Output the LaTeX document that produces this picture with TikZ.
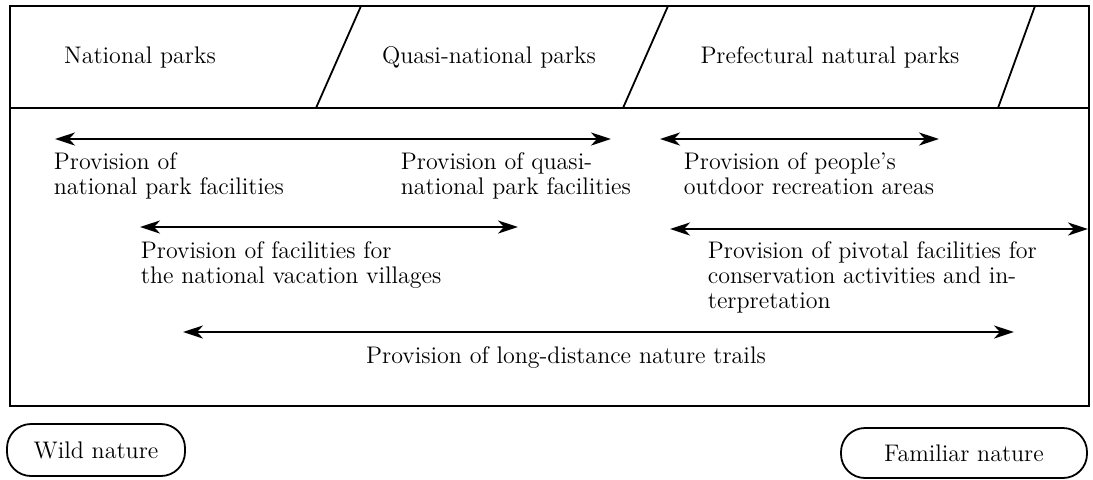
\documentclass[tikz,border=0pt]{standalone}
\usetikzlibrary{arrows.meta}

\begin{document}
\begin{tikzpicture}[x=0.5pt, y=-0.5pt, line width=0.9pt,
        txt/.style = {font=\fontsize{12}{12.5}\selectfont, inner sep=0pt},
        lbl/.style = {txt, align=left, anchor=north west},
        span/.style = {{Stealth[length=10pt,width=6.5pt,inset=3pt]}-{Stealth[length=10pt,width=6.5pt,inset=3pt]}, line width=1.3pt},
        pill/.style = {draw, txt, rounded corners=12pt, line width=0.9pt}]
        \useasboundingbox (0,0) rectangle (1093,479);
        % frame and park headings
        \draw (10,6) rectangle (1089,406);
        \draw (10,108) -- (1089,108);
        \draw (361,6) -- (316,108);
        \draw (668,6) -- (623,108);
        \draw (1035,6) -- (998,108);
        \node[txt] (np)  at (140,57) {National parks};
        \node[txt] (qnp) at (489,57) {Quasi-national parks};
        \node[txt] (pnp) at (830,57) {Prefectural natural parks};
        % arrow ends
        \coordinate (a1l) at (55,139);   \coordinate (a1r) at (611,139);
        \coordinate (a2l) at (660,139);  \coordinate (a2r) at (939,139);
        \coordinate (a3l) at (140,227);  \coordinate (a3r) at (518,227);
        \coordinate (a4l) at (670,229);  \coordinate (a4r) at (1088,229);
        \coordinate (a5l) at (183,332);  \coordinate (a5r) at (1014,332);
        \draw[span] (a1l) -- (a1r);
        \draw[span] (a2l) -- (a2r);
        \draw[span] (a3l) -- (a3r);
        \draw[span] (a4l) -- (a4r);
        \draw[span] (a5l) -- (a5r);
        % labels
        \node[lbl] (npf)  at (53,152)  {Provision of\\national park facilities};
        \node[lbl] (qnpf) at (400,152) {Provision of quasi-\\national park facilities};
        \node[lbl] (ora)  at (683,152) {Provision of people's\\outdoor recreation areas};
        \node[lbl] (nvv)  at (140,241) {Provision of facilities for\\the national vacation villages};
        \node[lbl] (piv)  at (707,241) {Provision of pivotal facilities for\\conservation activities and in-\\terpretation};
        \node[txt] (ldt)  at (566,357) {Provision of long-distance nature trails};
        % ends of the scale
        \node[pill, minimum width=89pt, minimum height=26pt]   (wild) at (96,450)  {Wild nature};
        \node[pill, minimum width=123pt, minimum height=25pt]  (fam)  at (964,453) {Familiar nature};
\end{tikzpicture}
\end{document}
